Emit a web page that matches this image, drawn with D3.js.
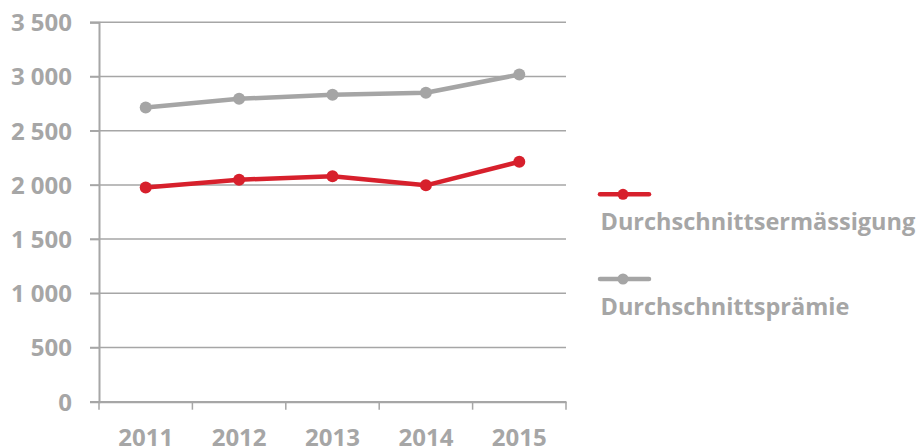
<!DOCTYPE html>
<html>
<head>
<meta charset="utf-8">
<script src="https://cdn.jsdelivr.net/npm/d3@7"></script>
<style>
  body { margin: 0; background: #fff; }
  svg { display: block; font-family: "Open Sans", sans-serif; font-weight: 700; }
</style>
</head>
<body>
<svg id="chart" width="920" height="448"></svg>
<script>
// data
var years = ["2011", "2012", "2013", "2014", "2015"];
var ermaessigung = [1975, 2048, 2079, 1996, 2214];
var praemie = [2714, 2794, 2831, 2850, 3018];
var yTicks = [0, 500, 1000, 1500, 2000, 2500, 3000, 3500];
var seriesNames = ["Durchschnittsermässigung", "Durchschnittsprämie"];
var seriesColors = ["#D7202C", "#A5A5A5"];

var gray = "#A6A6A6";
var svg = d3.select("#chart");

var x = d3.scaleBand().domain(years).range([99, 566]);
var y = d3.scaleLinear().domain([0, 3500]).range([401.7, 22.3]);

var fmt = function (d) { return d3.format(",")(d).replace(/,/g, " "); };

// horizontal grid
svg.append("g")
    .selectAll("line")
    .data(yTicks)
    .enter().append("line")
    .attr("x1", 90).attr("x2", 566)
    .attr("y1", function (d) { return y(d); })
    .attr("y2", function (d) { return y(d); })
    .attr("stroke", gray).attr("stroke-width", 1.5);

// y axis
var yAxis = svg.append("g")
    .attr("transform", "translate(99,0)")
    .call(d3.axisLeft(y).tickValues(yTicks).tickFormat(fmt).tickSize(9).tickPadding(18));
yAxis.select(".domain").attr("stroke", gray).attr("stroke-width", 2);
yAxis.selectAll(".tick line").attr("stroke", gray).attr("stroke-width", 1.5);
yAxis.selectAll(".tick text")
    .attr("fill", gray).attr("font-size", 24).attr("font-family", "Open Sans").attr("font-weight", 700)
    .attr("dy", "0.35em");

// x axis
var xAxis = svg.append("g")
    .attr("transform", "translate(0," + y(0) + ")")
    .call(d3.axisBottom(x).tickSize(0).tickPadding(27));
xAxis.select(".domain").attr("stroke", gray).attr("stroke-width", 2);
xAxis.selectAll(".tick text")
    .attr("fill", gray).attr("font-size", 24).attr("font-family", "Open Sans").attr("font-weight", 700)
    .attr("dy", "0.71em");

// x tick marks between categories
var edges = years.map(function (d) { return x(d); }).concat([x.range()[1]]);
svg.append("g")
    .selectAll("line")
    .data(edges)
    .enter().append("line")
    .attr("x1", function (d) { return d; }).attr("x2", function (d) { return d; })
    .attr("y1", y(0)).attr("y2", y(0) + 8)
    .attr("stroke", gray).attr("stroke-width", 1.5);

var line = d3.line()
    .x(function (d, i) { return x(years[i]) + x.bandwidth() / 2; })
    .y(function (d) { return y(d); });

[praemie, ermaessigung].forEach(function (vals) {
    var c = vals === praemie ? seriesColors[1] : seriesColors[0];
    svg.append("path")
        .attr("d", line(vals))
        .attr("fill", "none")
        .attr("stroke", c)
        .attr("stroke-width", 4.5)
        .attr("stroke-linejoin", "round");
    svg.append("g").selectAll("circle")
        .data(vals)
        .enter().append("circle")
        .attr("cx", function (d, i) { return x(years[i]) + x.bandwidth() / 2; })
        .attr("cy", function (d) { return y(d); })
        .attr("r", 6)
        .attr("fill", c);
});

// legend
var legendY = [194.3, 279];
var legend = svg.append("g").selectAll("g")
    .data(seriesNames)
    .enter().append("g")
    .attr("transform", function (d, i) { return "translate(600," + legendY[i] + ")"; });
legend.append("line")
    .attr("x1", 0).attr("x2", 49).attr("y1", 0).attr("y2", 0)
    .attr("stroke", function (d, i) { return seriesColors[i]; })
    .attr("stroke-width", 4.5).attr("stroke-linecap", "round");
legend.append("circle")
    .attr("cx", 23).attr("cy", 0).attr("r", 5.5)
    .attr("fill", function (d, i) { return seriesColors[i]; });
legend.append("text")
    .attr("x", 0.5).attr("y", 35.5)
    .attr("fill", gray).attr("font-size", 23.5)
    .text(function (d) { return d; });
</script>
</body>
</html>
